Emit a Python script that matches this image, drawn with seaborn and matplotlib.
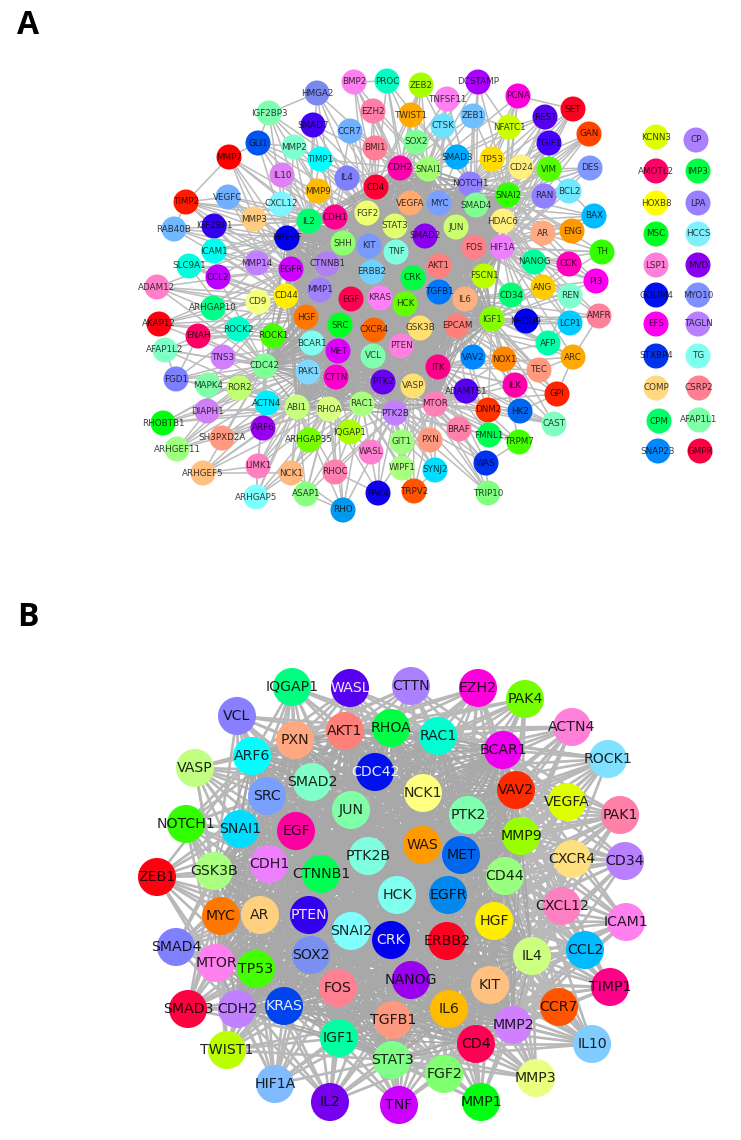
import itertools
import numpy as np
import pandas as pd
import seaborn as sns
import matplotlib.pyplot as plt

# panel A, main component (positions, in pixels)
genes_a = ['HMGA2','BMP2','EZH2','IGF2BP3','SMAD7','CCR7','BMI1','GLI1','MMP2','TIMP1',
           'MMP7','IL10','IL4','CD4','MMP9','VEGFC','TIMP2','CXCL12','CDH1','FGF2',
           'IL2','MMP3','IGF2BP1','RAB40B','HBEGF','SHH','KIT','ICAM1','SLC9A1','MMP14',
           'EGFR','CTNNB1','ERBB2','CCL2','ADAM12','PROC','ZEB2','DCSTAMP','TNFSF11','PCNA',
           'SET','TWIST1','ZEB1','REST','CTSK','NFATC1','GAN','TGIF1','SOX2','SMAD3',
           'TP53','CD24','VIM','DES','CDH2','SNAI1','NOTCH1','BCL2','SNAI2','RAN',
           'VEGFA','MYC','SMAD4','BAX','HDAC6','STAT3','JUN','AR','ENG','SMAD2',
           'FOS','HIF1A','TNF','TH','NANOG','CCK','AKT1','FSCN1','CRK','PI3',
           'ANG','REN','CD34','IL6','TGFB1','KRAS','HCK','AMFR','IGF1','NEDD9',
           'LCP1','EPCAM','GSK3B','CXCR4','AFP','PTEN','ARC','VAV2','NOX1','VCL',
           'ITK','TEC','PTK2','VASP','ILK','ADAMTS1','GPI','MTOR','DNM2','HK2',
           'PTK2B','CAST','BRAF','FMNL1','TRPM7','GIT1','PXN','WASL','WAS','WIPF1',
           'SYNJ2','PAK4','TRPV2','TRIP10','MMP1','CD44','CD9','EGF','ARHGAP10','AKAP12',
           'HGF','SRC','ROCK2','ENAH','ROCK1','BCAR1','MET','AFAP1L2','TNS3','CDC42',
           'PAK1','CTTN','FGD1','MAPK4','ROR2','ACTN4','RAC1','ABI1','RHOA','DIAPH1',
           'RHOBTB1','ARF6','IQGAP1','SH3PXD2A','ARHGAP35','ARHGEF11','LIMK1','ARHGEF5','NCK1','RHOC',
           'ARHGAP5','ASAP1','RHO']
x_a = [317,354,373,269,313,350,375,258,294,320,
       229,282,347,376,318,228,186,281,335,367,
       309,254,214,174,287,343,369,214,189,257,
       291,327,372,218,157,387,421,478,447,518,
       573,411,473,545,443,509,589,549,416,457,
       492,521,549,590,400,428,470,569,508,544,
       410,439,476,594,503,395,456,543,572,425,
       474,502,396,602,534,569,439,484,413,596,
       543,570,511,465,439,380,405,599,492,526,
       570,457,420,374,548,401,573,473,504,373,
       438,539,383,413,515,466,557,435,488,520,
       395,554,459,489,519,402,430,371,486,402,
       435,378,414,488,320,286,258,351,213,159,
       306,340,238,198,273,312,338,165,223,265,
       308,336,176,208,239,267,362,297,329,207,
       163,263,350,222,309,177,258,203,291,335,
       256,306,343]
y_a = [93,82,111,113,125,131,148,143,147,159,
       157,175,178,187,191,197,202,204,217,213,
       221,219,226,229,238,243,246,251,266,263,
       269,264,272,277,287,81,85,82,99,96,
       109,115,116,117,126,127,134,143,142,157,
       159,167,169,168,168,169,184,191,195,196,
       203,203,205,216,221,226,227,233,231,236,
       247,247,252,252,262,264,266,276,278,281,
       287,296,295,299,292,298,304,316,319,321,
       323,326,328,330,343,346,357,357,359,356,
       367,370,382,386,385,391,394,404,410,411,
       413,424,429,435,442,442,440,452,463,468,
       470,493,491,493,290,296,302,299,308,324,
       317,325,329,336,336,343,351,350,357,366,
       372,377,379,385,388,403,404,407,409,411,
       423,428,432,438,440,449,466,473,473,472,
       497,494,510]
colors_a = ['#7b88f0','#ff80f0','#ff7fa8','#80ffb0','#4400f0','#70b0ff','#ff7f98','#0055ee','#80ffd0','#00ffff',
            '#ff0000','#df80f5','#8080ff','#ff0033','#ffbb00','#70b0ff','#ff1a00','#80f5ff','#ff0090','#eeff70',
            '#00ff70','#ffcc80','#3300ee','#70b8ff','#0000ee','#90ff70','#7a99ff','#00ffee','#00ffdd','#c080ff',
            '#cc00ff','#b080f0','#70d0ff','#bb00ff','#ff80c8','#00ffc0','#a8ff00','#aa00ff','#ff80f0','#ff00dd',
            '#ff0022','#ffaa00','#70c0ff','#5500ee','#70e0ff','#ccff00','#ff4400','#4400ff','#80ff90','#00aaff',
            '#ffdd00','#fff080','#55ff00','#8099ff','#ff00aa','#a0ff70','#9080ff','#70e8ff','#33ff00','#9080ff',
            '#ffaa70','#7aa0ff','#80ff90','#00bbff','#fff080','#ddff70','#ccff70','#ffaa80','#ff9900','#8800ee',
            '#ff8088','#ee80ff','#80ffe0','#33ff00','#00ff99','#ff00bb','#ff8080','#bbff00','#00ff44','#ff00ee',
            '#ffcc00','#80ffd0','#00ff77','#ffb080','#0077ff','#ff80f8','#66ff00','#ff8099','#88ff00','#0000ee',
            '#00ccff','#ff8078','#ffe070','#ff6600','#00ffaa','#ff80e0','#ffaa00','#0088ff','#ff8800','#80ffb0',
            '#ff0088','#ff9980','#6600ee','#ffe070','#ff00aa','#5500ee','#ff2200','#ff80b8','#ff3300','#0066ee',
            '#c080ff','#80ffc0','#ff80a8','#00ff55','#44ff00','#a0ff80','#ff9980','#ff80d0','#0033ee','#aaff80',
            '#00ddff','#1100ee','#ff5500','#80ff80','#a080ff','#ffee00','#f5ff80','#ff0050','#00ff88','#ff0011',
            '#ff7700','#00ff22','#00ffcc','#ff0066','#44ff00','#80fff0','#dd00ff','#80ffc8','#d080ff','#80ff98',
            '#80d8ff','#ff00cc','#7a80ff','#80ffa8','#c0ff70','#00eeff','#a8ff80','#c8ff80','#d8ff80','#d080f5',
            '#00ff11','#9900ee','#aaff00','#ff9980','#77ff00','#a0ff80','#ff80c0','#ffc080','#ffb880','#ff80b0',
            '#80ffff','#88ff80','#0099ee']

# panel A, the two columns of unconnected genes
genes_iso = ['KCNN3','CP','AMOTL2','IMP3','HOXB8','LPA','MSC','HCCS','LSP1','MVD','GOLIM4',
             'MYO10','EFS','TAGLN','STXBP4','TG','COMP','CSRP2','CPM','AFAP1L1','SNAP23','GMPR']
x_iso = [656,696,656,698,656,698,656,698,656,698,656,
         698,656,698,656,698,656,699,659,699,658,700]
y_iso = [137,140,171,171,203,203,234,234,265,265,295,
         295,324,324,356,356,388,388,421,420,451,451]
colors_iso = ['#ddff00','#aa80ff','#ff0066','#00ff44','#ffff00','#9980ff','#00ff22','#80f0ff','#ff80d8','#8800ee','#0011ee',
              '#8090ff','#ff00ee','#b880ff','#0033ee','#80fff0','#ffd880','#ff8090','#00ff66','#80ffaa','#0088ff','#ff0044']

# panel B
genes_b = ['IQGAP1','WASL','VCL','PXN','AKT1','RHOA','ARF6','VASP','SMAD2','CDC42',
           'SRC','JUN','NOTCH1','SNAI1','EGF','PTK2B','ZEB1','GSK3B','CDH1','CTNNB1',
           'CTTN','EZH2','PAK4','ACTN4','RAC1','BCAR1','ROCK1','NCK1','VAV2','VEGFA',
           'PAK1','PTK2','MMP9','WAS','MET','CXCR4','CD34','CD44','HCK','EGFR',
           'CXCL12','MYC','AR','PTEN','SNAI2','SMAD4','SOX2','MTOR','TP53','FOS',
           'SMAD3','CDH2','KRAS','IGF1','TWIST1','HIF1A','IL2','HGF','CRK','ERBB2',
           'IL4','CCL2','ICAM1','NANOG','KIT','TIMP1','IL6','CCR7','TGFB1','MMP2',
           'CD4','IL10','STAT3','FGF2','MMP3','TNF','MMP1']
x_b = [292,350,237,295,345,391,252,195,312,375,
       267,351,186,240,296,368,157,214,269,321,
       411,478,525,572,438,503,608,423,516,567,
       620,468,521,422,461,572,625,505,397,448,
       562,221,260,309,351,176,311,216,256,338,
       188,237,284,339,227,275,330,494,391,447,
       532,585,626,411,490,610,449,559,393,513,
       476,592,392,444,536,399,481]
y_b = [687,688,716,740,731,728,756,768,782,772,
       796,810,824,829,831,856,877,871,864,874,
       686,688,699,727,736,750,759,793,790,802,
       815,815,836,845,855,859,861,876,895,895,
       906,916,915,915,931,947,955,963,969,988,
       1009,1009,1006,1038,1050,1084,1102,921,940,941,
       956,950,922,980,985,987,1009,1007,1020,1025,
       1044,1044,1060,1074,1078,1105,1102]
colors_b = ['#00ff80','#5500ee','#8880ff','#ffa880','#ff8078','#00ff44','#00ffff','#c0ff80','#80ffc8','#0011ee',
            '#7aa0ff','#80ffa8','#33ff00','#00ddff','#ff00a0','#80ffe0','#ff0011','#a8ff80','#ee80ff','#00ff55',
            '#aa80ff','#ff00dd','#77ff00','#ff80d8','#00ffd0','#ee00ee','#80e0ff','#ffff80','#ff2a00','#ddff00',
            '#ff80a8','#80ffb0','#99ff00','#ff9900','#0066ee','#ffe080','#b880ff','#99ff80','#80fff0','#0088ee',
            '#ff80c0','#ff7700','#ffd080','#3300ee','#80ffff','#8080ff','#7a90f0','#ff80ee','#44ff00','#ff8090',
            '#ff0040','#c080ff','#0044ee','#00ffa0','#bbff00','#80bbff','#7700ee','#ffee00','#0000ee','#ff0022',
            '#ccff80','#00bbff','#ff80ee','#9900ee','#ffc080','#ff0088','#ffbb00','#ff5500','#ff9880','#d080ff',
            '#ff0055','#80ccff','#80ff88','#80ff70','#e8ff80','#cc00ff','#00ff11']
white_labels_b = ['WASL','CDC42','PTEN','KRAS','CRK']

# the edges are too dense to read one by one: the well connected genes are
# joined to each other, every other gene to its closest well connected ones
hubs_a = ['CD4','CDH1','FGF2','IL2','HBEGF','SHH','KIT','EGFR','CTNNB1','ERBB2','MMP1','EGF',
          'KRAS','HCK','CRK','TNF','SMAD2','STAT3','VEGFA','MYC','JUN','AKT1','FOS','TGFB1',
          'IL6','GSK3B','CXCR4','SRC','HGF','CD44','MET','VCL','PTEN','CTTN','BCAR1','PAK1',
          'PTK2','VASP','ITK','EPCAM','RAC1','RHOA','SMAD4','NOTCH1','SNAI1','CDH2','CDC42',
          'PTK2B','MTOR','ABI1','IGF1','SNAI2','HDAC6','HIF1A']
hubs_b = ['SMAD2','CDC42','JUN','EGF','PTK2B','CTNNB1','NCK1','PTK2','WAS','MET','HCK','EGFR',
          'AR','PTEN','SNAI2','SOX2','FOS','KRAS','CRK','ERBB2','NANOG','KIT','IL6','TGFB1',
          'SRC','RHOA','AKT1','RAC1','BCAR1','VAV2','MMP9','CD44','HGF','IL4','MMP2','CD4',
          'STAT3','IGF1','TP53','MYC','CDH1','GSK3B','SNAI1','ARF6','PXN','CDH2','MTOR']
outer_links_a = [('HMGA2','IGF2BP3'),('IGF2BP3','GLI1'),('GLI1','MMP7'),('GLI1','MMP2'),('MMP7','TIMP2'),
                 ('MMP7','MMP3'),('TIMP2','RAB40B'),('TIMP2','VEGFC'),('TIMP2','MMP3'),('TIMP2','IGF2BP1'),
                 ('VEGFC','MMP3'),('ICAM1','CCL2'),('SLC9A1','CCL2'),('ADAM12','ROCK1'),('ADAM12','CD9'),
                 ('AKAP12','ROCK2'),('AKAP12','ARHGAP10'),('ENAH','ROCK1'),('ENAH','CDC42'),('AFAP1L2','FGD1'),
                 ('FGD1','MAPK4'),('FGD1','ENAH'),('ARHGEF11','DIAPH1'),('RHOBTB1','DIAPH1'),('ARHGEF5','LIMK1'),
                 ('ARHGEF5','NCK1'),('ARHGAP5','LIMK1'),('ARHGAP5','NCK1'),('ASAP1','RHO'),('RHO','NCK1'),
                 ('PAK4','RHOC'),('TRIP10','WAS'),('TRPV2','SYNJ2'),('TRPM7','WAS'),('CAST','HK2'),
                 ('CAST','DNM2'),('GPI','HK2'),('GPI','ARC'),('AMFR','ARC'),('TEC','ARC'),('ARC','AFP'),
                 ('AFP','LCP1'),('AFP','REN'),('REN','ANG'),('PI3','ANG'),('TH','NANOG'),('CCK','NANOG'),
                 ('BAX','ENG'),('BAX','BCL2'),('BCL2','VIM'),('DES','VIM'),('GAN','VIM'),('SET','PCNA'),
                 ('PCNA','NFATC1'),('REST','NFATC1'),('TGIF1','SNAI2'),('VIM','CD24'),('PROC','BMP2'),
                 ('ZEB2','TWIST1'),('DCSTAMP','NFATC1'),('TNFSF11','CTSK'),('ZEB1','NFATC1')]

fig, ax = plt.subplots(figsize=(7.41, 11.4), dpi=100)
ax.set_position([0, 0, 1, 1])


def make_edge_table(pairs, genes, x, y):
    pos = dict(zip(genes, zip(x, y)))
    rows = []
    for edge, (a, b) in enumerate(pairs):
        rows.append({'edge': edge, 'x': pos[a][0], 'y': pos[a][1]})
        rows.append({'edge': edge, 'x': pos[b][0], 'y': pos[b][1]})
    return pd.DataFrame(rows)


def spokes_to_hubs(genes, x, y, hubs, n_hubs):
    pos = dict(zip(genes, zip(x, y)))
    pairs = []
    for gene in genes:
        if gene in hubs:
            continue
        dist = [np.hypot(pos[gene][0] - pos[h][0], pos[gene][1] - pos[h][1]) for h in hubs]
        pairs += [(gene, hubs[i]) for i in np.argsort(dist)[:n_hubs]]
    return pairs


def draw_edges(pairs, genes, x, y, width, color):
    edges = make_edge_table(pairs, genes, x, y)
    sns.lineplot(edges, x='x', y='y', units='edge', estimator=None, sort=False,
                 color=color, linewidth=width, legend=False, ax=ax, zorder=1)


def draw_nodes(genes, x, y, colors, size, font_size, white_labels=(), text_alpha=0.75):
    nodes = pd.DataFrame({'gene': genes, 'x': x, 'y': y})
    sns.scatterplot(nodes, x='x', y='y', hue='gene', palette=dict(zip(genes, colors)), s=size,
                    linewidth=0, legend=False, ax=ax, zorder=3)
    for gene, px, py in zip(genes, x, y):
        ax.text(px, py, gene, ha='center', va='center', fontsize=font_size, zorder=4,
                color='white' if gene in white_labels else '#000000', alpha=0.9 if gene in white_labels else text_alpha)


draw_edges(spokes_to_hubs(genes_a, x_a, y_a, hubs_a, 5) + outer_links_a, genes_a, x_a, y_a, 1.1, '#bcbcbc')
draw_edges(list(itertools.combinations(hubs_a, 2)), genes_a, x_a, y_a, 1.0, '#a8a8a8')
draw_edges(spokes_to_hubs(genes_b, x_b, y_b, hubs_b, 14), genes_b, x_b, y_b, 1.9, '#b8b8b8')
draw_edges(list(itertools.combinations(hubs_b, 2)), genes_b, x_b, y_b, 1.2, '#a8a8a8')
draw_nodes(genes_a, x_a, y_a, colors_a, 325, 6.3)
draw_nodes(genes_iso, x_iso, y_iso, colors_iso, 325, 6.3)
draw_nodes(genes_b, x_b, y_b, colors_b, 750, 10.2, white_labels_b, text_alpha=0.85)

ax.text(28, 25, 'A', fontsize=23, fontweight='bold', family='Open Sans', ha='center', va='center')
ax.text(28, 618, 'B', fontsize=23, fontweight='bold', family='Open Sans', ha='center', va='center')

ax.set_xlim(0, 741)
ax.set_ylim(1140, 0)
ax.axis('off')
fig.savefig('out.png', dpi=100)
